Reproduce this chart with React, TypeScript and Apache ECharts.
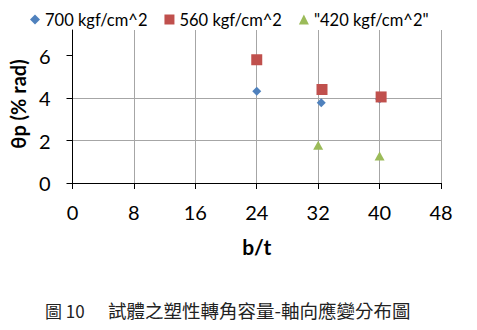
import React, { useEffect, useRef } from "react";
import * as echarts from "echarts";

const seriesNames = ["700 kgf/cm^2", "560 kgf/cm^2", "\"420 kgf/cm^2\""];
const s700: [number, number][] = [[24, 4.32], [32.4, 3.78], [40, 3.95]];
const s560: [number, number][] = [[24, 5.8], [32.5, 4.4], [40.2, 4.05]];
const s420: [number, number][] = [[32, 1.78], [40, 1.27]];
const xTicks = [0, 8, 16, 24, 32, 40, 48];
const yTicks = [0, 2, 4, 6];
const xName = "b/t";
const yName = "θp (% rad)";
const captionLabel = "圖 10";
const captionText = "試體之塑性轉角容量-軸向應變分布圖";

const font = "Lato, 'Open Sans', sans-serif";

export default function App() {
  const ref = useRef<HTMLDivElement>(null);
  useEffect(() => {
    if (!ref.current) return;
    document.body.style.margin = "0";
    const chart = echarts.init(ref.current, undefined, { renderer: "svg" });
    chart.setOption({
      animation: false,
      backgroundColor: "#fff",
      legend: {
        top: 6,
        left: 25,
        itemWidth: 10,
        itemHeight: 10,
        itemGap: 17,
        textStyle: { fontFamily: font, fontSize: 16.5, color: "#000" },
        data: [
          { name: seriesNames[0], icon: "diamond" },
          { name: seriesNames[1], icon: "rect" },
          { name: seriesNames[2], icon: "triangle" },
        ],
      },
      grid: { left: 72, right: 36, top: 30, bottom: 147 },
      xAxis: {
        type: "value",
        min: 0,
        max: 48,
        interval: 8,
        name: xName,
        nameLocation: "middle",
        nameGap: 53,
        nameTextStyle: { fontFamily: font, fontSize: 21, fontWeight: "bold", color: "#000" },
        axisLine: { show: true, onZero: false, lineStyle: { color: "#000", width: 1 } },
        axisTick: { show: true, length: 6, lineStyle: { color: "#000" }, customValues: xTicks },
        axisLabel: { fontFamily: font, fontSize: 20, color: "#000", margin: 19, customValues: xTicks },
        splitLine: { show: true, lineStyle: { color: "#a6a6a6", width: 1 } },
      },
      yAxis: {
        type: "value",
        min: 0,
        max: 7.2,
        interval: 2,
        name: yName,
        nameLocation: "middle",
        nameGap: 38,
        nameRotate: 90,
        nameTextStyle: { fontFamily: font, fontSize: 20, fontWeight: "bold", color: "#000", padding: [0, 0, 0, 5] },
        axisLine: { show: true, lineStyle: { color: "#000", width: 1 } },
        axisTick: { show: true, length: 6, lineStyle: { color: "#000" }, customValues: yTicks },
        axisLabel: { fontFamily: font, fontSize: 20, color: "#000", margin: 22, customValues: yTicks },
        splitLine: { show: true, showMaxLine: false, lineStyle: { color: "#a6a6a6", width: 1 } },
      },
      series: [
        {
          name: seriesNames[0],
          type: "scatter",
          symbol: "diamond",
          symbolSize: 9,
          itemStyle: { color: "#4F81BD", opacity: 1 },
          data: s700,
          z: 2,
        },
        {
          name: seriesNames[1],
          type: "scatter",
          symbol: "rect",
          symbolSize: 11,
          itemStyle: { color: "#C0504D", opacity: 1 },
          data: s560,
          z: 3,
        },
        {
          name: seriesNames[2],
          type: "scatter",
          symbol: "triangle",
          symbolSize: [10, 9],
          itemStyle: { color: "#9BBB59", opacity: 1 },
          data: s420,
          z: 4,
        },
      ],
      graphic: [
        {
          type: "text",
          left: 45,
          top: 302,
          style: { text: captionLabel, fontFamily: "'Noto Sans CJK TC', serif", fontSize: 17, fill: "#222" },
        },
        {
          type: "text",
          left: 108,
          top: 301,
          style: { text: captionText, fontFamily: "'Noto Sans CJK TC', serif", fontSize: 18.5, fill: "#222" },
        },
      ],
    });
    return () => chart.dispose();
  }, []);
  return <div ref={ref} style={{ width: 477, height: 330 }} />;
}
